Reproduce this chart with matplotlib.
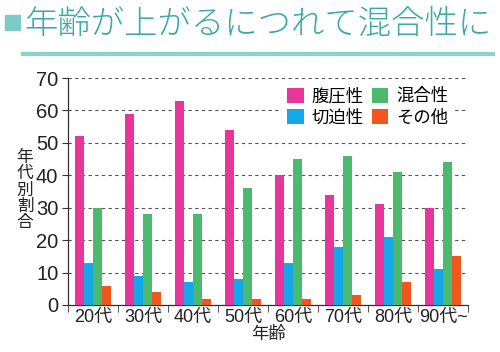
import matplotlib
matplotlib.use("Agg")
import matplotlib.pyplot as plt
from matplotlib.patches import Rectangle
from matplotlib.lines import Line2D
import numpy as np

plt.rcParams['font.family'] = ['Noto Sans CJK JP', 'DejaVu Sans']

categories = ['20代', '30代', '40代', '50代', '60代', '70代', '80代', '90代~']
series_names = ['腹圧性', '切迫性', '混合性', 'その他']
fukuatsu = [52, 59, 63, 54, 40, 34, 31, 30]
seppaku = [13, 9, 7, 8, 13, 18, 21, 11]
kongo = [30, 28, 28, 36, 45, 46, 41, 44]
sonota = [6, 4, 2, 2, 2, 3, 7, 15]
colors = ['#E8359C', '#14A8E8', '#4BBA6E', '#F0561E']
title = '年齢が上がるにつれて混合性に'
teal = '#3BA9A8'
numfam = ['Liberation Sans', 'Noto Sans CJK JP']

fig = plt.figure(figsize=(5, 3.52), dpi=100)
ax = fig.add_axes([68/500, 1-305/352, 400/500, 227/352])

x = np.arange(len(categories))
w = 0.18
data = [fukuatsu, seppaku, kongo, sonota]
handles = []
for i, (vals, c, name) in enumerate(zip(data, colors, series_names)):
    b = ax.bar(x + (i - 1.5) * w, vals, width=w, color=c, label=name, zorder=3)
    handles.append(b)

ax.set_xlim(-0.5, len(categories) - 0.5)
ax.set_ylim(0, 70)
ax.set_yticks(range(0, 71, 10))
ax.tick_params(axis='y', length=4, color='#333333', pad=3)
ax.set_xticks(x)
ax.set_xticklabels(categories)
ax.tick_params(axis='x', which='major', length=0, pad=3)
for lab in ax.get_yticklabels():
    lab.set_fontfamily(numfam); lab.set_fontsize(14.5); lab.set_color('#222222')
for lab in ax.get_xticklabels():
    lab.set_fontfamily(numfam); lab.set_fontsize(13); lab.set_color('#222222')
ax.set_xticks(np.arange(-0.5, len(categories), 1), minor=True)
ax.tick_params(axis='x', which='minor', length=5, color='#333333', direction='out')
for s in ['top', 'right']:
    ax.spines[s].set_visible(False)
for s in ['left', 'bottom']:
    ax.spines[s].set_color('#333333')
    ax.spines[s].set_linewidth(0.9)
ax.yaxis.grid(True, linestyle=(0, (3, 3)), color='#555555', linewidth=0.8, zorder=0)
ax.set_axisbelow(True)

ax.set_xlabel('年齢', fontsize=12.5, labelpad=-1, color='#222222')
fig.text(25/500, 1-190/352, '\n'.join('年代別割合'), fontsize=12, ha='center', va='center',
         linespacing=0.95, color='#222222')

leg = ax.legend(handles, series_names,
                ncol=2, loc='upper right', bbox_to_anchor=(0.985, 1.02), frameon=True,
                fontsize=12.5, handlelength=0.95, handleheight=0.95, handletextpad=0.45,
                columnspacing=0.45, labelspacing=0.2, borderpad=0.3)
leg.get_frame().set_edgecolor('none')
leg.get_frame().set_facecolor('white')
leg.get_frame().set_alpha(1)
leg.set_zorder(5)

# title
fig.patches.append(Rectangle((5/500, 1-30/352), 15/500, 15/352, transform=fig.transFigure,
                             color='#7CCBC4', figure=fig))
fig.text(24/500, 1-25/352, title, fontsize=24, color=teal, ha='left', va='center',
         fontweight='light')
fig.lines.append(Line2D([23/500, 493/500], [1-54/352, 1-54/352], transform=fig.transFigure,
                        color='#8AD3CB', linewidth=3, figure=fig))

fig.savefig('out.png', dpi=100, facecolor='white')
